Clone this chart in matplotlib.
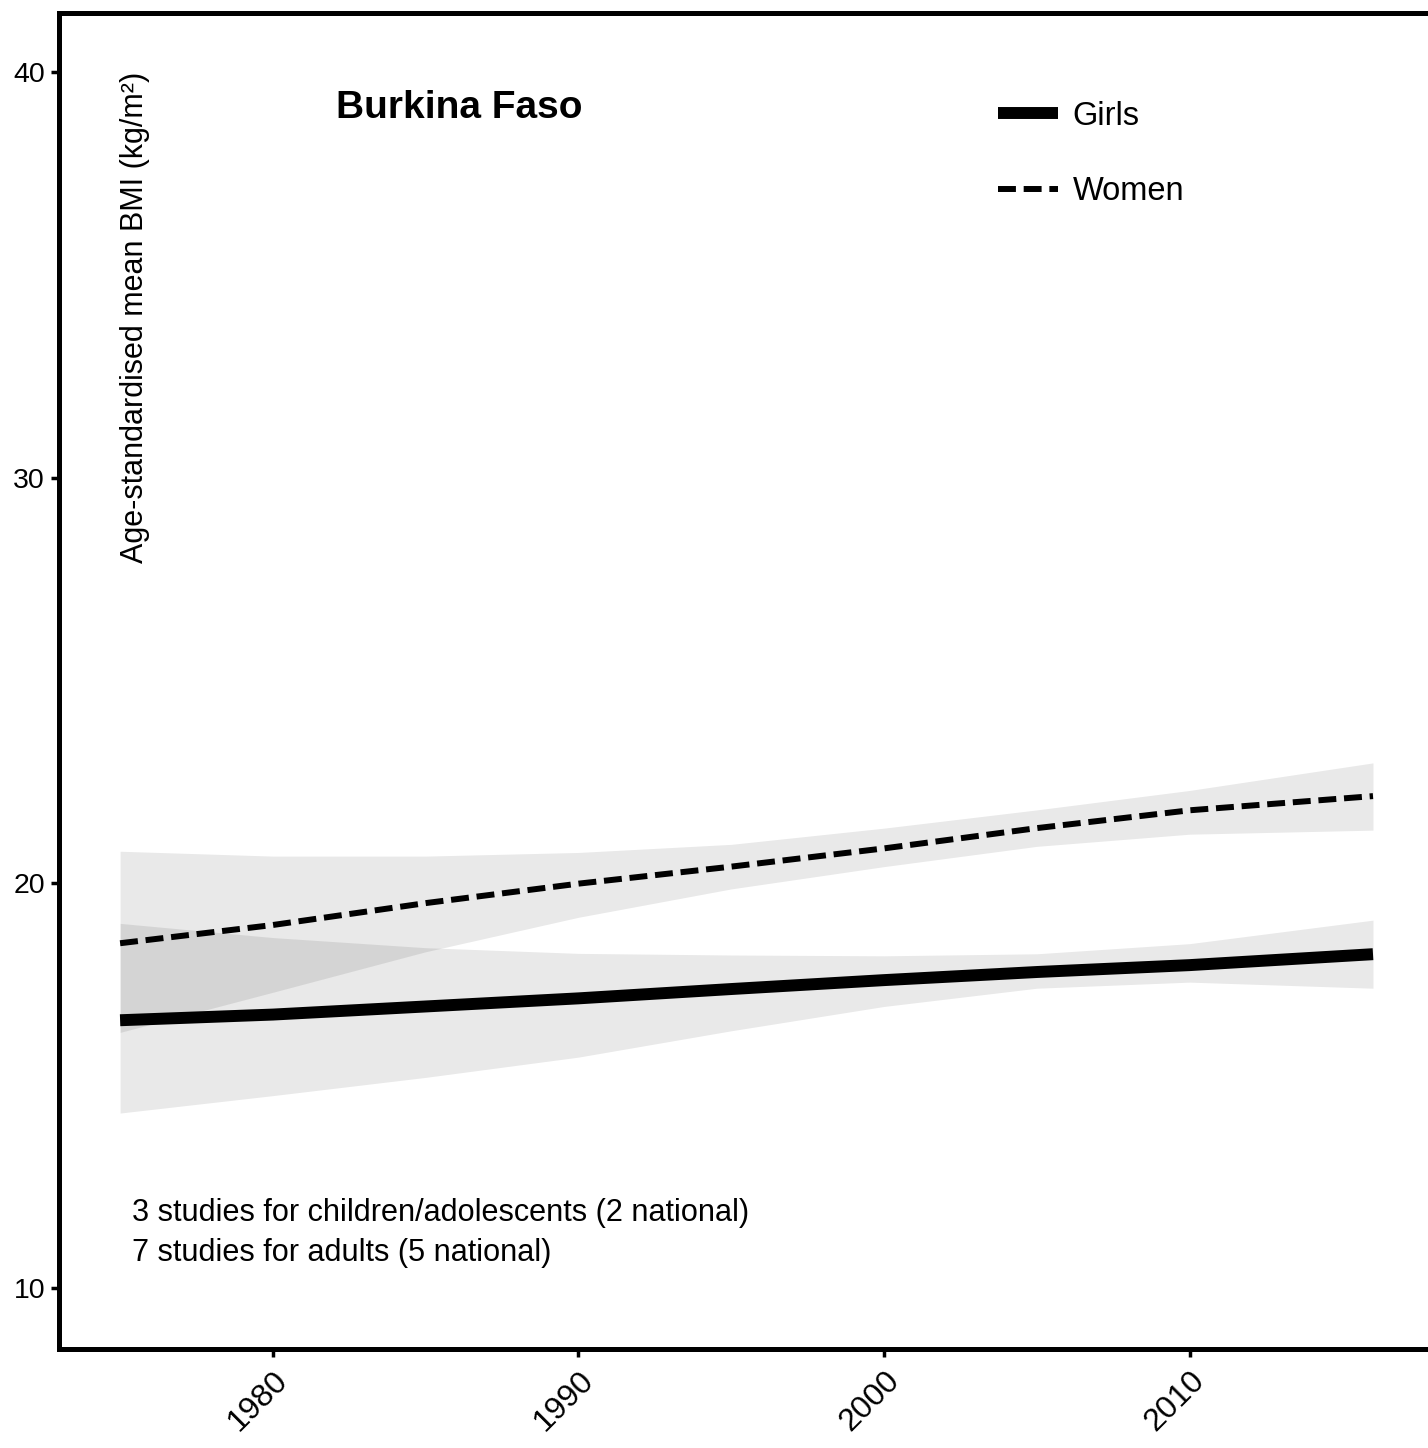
import numpy as np
import matplotlib
matplotlib.use('Agg')
import matplotlib.pyplot as plt

plt.rcParams['font.family'] = ['Liberation Sans', 'DejaVu Sans']

# values
years = [1975, 1980, 1985, 1990, 1995, 2000, 2005, 2010, 2016]
girls_mean = [16.61, 16.75, 16.95, 17.15, 17.38, 17.6, 17.8, 17.97, 18.24]
girls_lo = [14.32, 14.75, 15.2, 15.7, 16.35, 16.95, 17.4, 17.55, 17.4]
girls_hi = [19.0, 18.65, 18.4, 18.26, 18.22, 18.2, 18.25, 18.5, 19.08]
women_mean = [18.51, 18.96, 19.5, 19.98, 20.4, 20.85, 21.35, 21.79, 22.14]
women_lo = [16.31, 17.3, 18.3, 19.15, 19.85, 20.4, 20.9, 21.2, 21.3]
women_hi = [20.78, 20.66, 20.66, 20.75, 20.95, 21.35, 21.8, 22.28, 22.96]

country = "Burkina Faso"
ylabel = "Age-standardised mean BMI (kg/m²)"
notes = ["3 studies for children/adolescents (2 national)",
         "7 studies for adults (5 national)"]
xticks = [1980, 1990, 2000, 2010]
yticks = [10, 20, 30, 40]

fig = plt.figure(figsize=(14.28, 14.48), dpi=100)
ax = fig.add_axes([0.0413, 0.0684, 0.9587, 0.9226])

band = dict(color='k', alpha=0.086, linewidth=0)
ax.fill_between(years, girls_lo, girls_hi, **band)
ax.fill_between(years, women_lo, women_hi, **band)
ax.plot(years, girls_mean, color='k', lw=8.6, solid_capstyle='butt', label='Girls')
ax.plot(years, women_mean, color='k', lw=4.3, dashes=(3.0, 1.3), label='Women')

ax.set_xlim(1973.0, 2017.8)
ax.set_ylim(8.5, 41.46)
ax.set_xticks(xticks)
ax.set_yticks(yticks)
ax.tick_params(axis='both', length=6, width=2.5, pad=4)
ax.tick_params(axis='y', labelsize=20.5)
ax.tick_params(axis='x', labelsize=23, pad=6)
plt.setp(ax.get_xticklabels(), rotation=45, ha='right', va='top', rotation_mode='anchor')

for side in ['left', 'top', 'bottom']:
    ax.spines[side].set_linewidth(3.6)
ax.spines['right'].set_visible(False)

ax.text(1982.06, 39.11, country, fontsize=28, fontweight='bold', ha='left', va='center')
ax.text(1975.5, 40.0, ylabel, fontsize=22, rotation=90, ha='center', va='top')
ax.text(1975.4, 11.86, notes[0], fontsize=22.1, ha='left', va='center')
ax.text(1975.4, 10.87, notes[1], fontsize=22.1, ha='left', va='center')

ax.legend(loc='upper left', bbox_to_anchor=(0.6762, 0.944), frameon=False, fontsize=23.5,
          handlelength=1.85, handletextpad=0.45, labelspacing=1.35, borderaxespad=0)

fig.savefig('out.png', dpi=100)
